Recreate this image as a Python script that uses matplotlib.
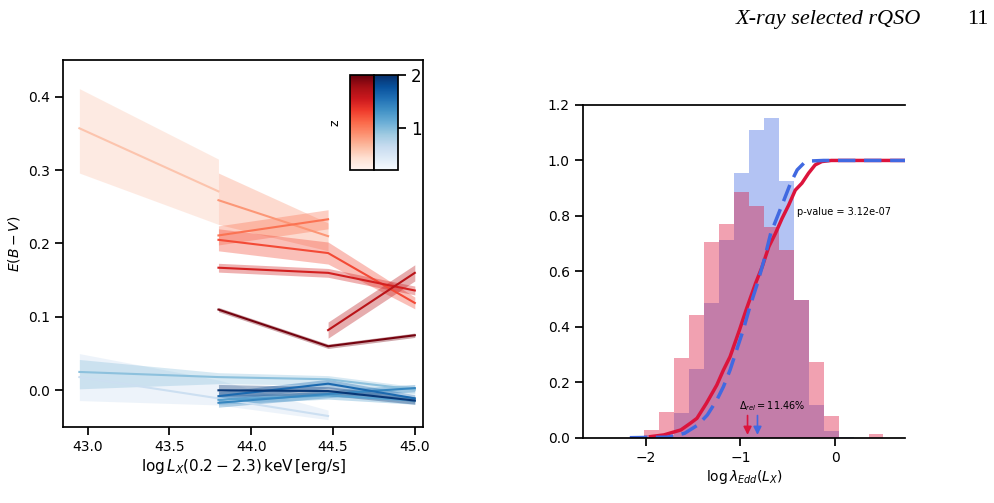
import numpy as np
import matplotlib.pyplot as plt
import matplotlib as mpl
from matplotlib.colors import Normalize

# ---- left panel: E(B-V) vs log Lx, one line per z bin ----
red_z = [0.6, 0.85, 1.05, 1.25, 1.5, 1.65, 1.95]
red_x = [[42.95, 43.8], [43.8, 44.47], [43.8, 44.47], [43.8, 44.47, 45.0],
         [43.8, 44.47, 45.0], [44.47, 45.0], [43.8, 44.47, 45.0]]
red_y = [[0.357, 0.271], [0.259, 0.210], [0.211, 0.233], [0.205, 0.187, 0.119],
         [0.167, 0.160, 0.136], [0.082, 0.160], [0.110, 0.060, 0.075]]
red_lo = [[0.296, 0.226], [0.226, 0.190], [0.198, 0.220], [0.190, 0.172, 0.111],
          [0.161, 0.154, 0.130], [0.071, 0.149], [0.107, 0.057, 0.072]]
red_hi = [[0.411, 0.315], [0.296, 0.228], [0.224, 0.246], [0.220, 0.202, 0.127],
          [0.173, 0.166, 0.142], [0.093, 0.171], [0.113, 0.063, 0.078]]

blue_z = [0.6, 0.95, 1.2, 1.4, 1.6, 1.95]
blue_x = [[42.95, 43.8, 44.47], [42.95, 43.8, 44.47, 45.0], [43.8, 44.47, 45.0],
          [43.8, 44.47, 45.0], [43.8, 44.47, 45.0], [43.8, 44.47, 45.0]]
blue_y = [[0.018, -0.011, -0.035], [0.025, 0.018, 0.015, 0.001], [-0.013, -0.007, -0.014],
          [-0.017, -0.005, 0.003], [-0.008, 0.009, -0.011], [0.000, -0.001, -0.014]]
blue_lo = [[-0.014, -0.020, -0.040], [0.002, 0.009, 0.007, -0.005], [-0.019, -0.012, -0.019],
           [-0.023, -0.010, -0.002], [-0.014, 0.003, -0.016], [-0.008, -0.007, -0.019]]
blue_hi = [[0.050, 0.014, -0.027], [0.042, 0.024, 0.020, 0.005], [-0.007, -0.002, -0.009],
           [-0.011, 0.000, 0.008], [-0.002, 0.015, -0.006], [0.008, 0.005, -0.009]]

# ---- right panel: histograms + CDFs ----
bin_edges = [-2.17, -2.02, -1.86, -1.70, -1.54, -1.39, -1.23, -1.07, -0.91, -0.75,
             -0.59, -0.43, -0.27, -0.12, 0.04, 0.20, 0.36, 0.51]
red_hist = [0.0, 0.028, 0.091, 0.289, 0.442, 0.706, 0.771, 0.887, 0.836, 0.759,
            0.677, 0.497, 0.273, 0.078, 0.0, 0.0, 0.013]
blue_hist = [0.005, 0.008, 0.010, 0.088, 0.249, 0.487, 0.713, 0.956, 1.110, 1.153,
             0.926, 0.495, 0.118, 0.025, 0.004, 0.0, 0.0]

red_cdf_x = [-1.95, -1.81, -1.63, -1.53, -1.46, -1.36, -1.25, -1.18, -1.11, -1.01,
             -0.94, -0.84, -0.77, -0.70, -0.63, -0.56, -0.49, -0.42, -0.35, -0.28,
             -0.21, -0.14, -0.04, 0.20, 0.74]
red_cdf_y = [0.004, 0.010, 0.028, 0.052, 0.070, 0.124, 0.190, 0.244, 0.292, 0.389,
             0.461, 0.557, 0.617, 0.689, 0.737, 0.791, 0.839, 0.893, 0.918, 0.954,
             0.984, 0.996, 1.0, 1.0, 1.0]
blue_cdf_x = [-2.17, -1.77, -1.59, -1.45, -1.35, -1.25, -1.18, -1.11, -1.04, -0.97,
              -0.90, -0.82, -0.75, -0.68, -0.61, -0.54, -0.47, -0.40, -0.33, -0.26,
              -0.12, 0.20, 0.74]
blue_cdf_y = [0.0, 0.002, 0.016, 0.046, 0.082, 0.136, 0.184, 0.244, 0.317, 0.389,
              0.473, 0.557, 0.641, 0.737, 0.797, 0.857, 0.918, 0.966, 0.990, 0.998,
              1.0, 1.0, 1.0]

red_median = -0.925
blue_median = -0.82

plt.rcParams['font.family'] = 'DejaVu Sans'
plt.rcParams['mathtext.fontset'] = 'dejavusans'

fig = plt.figure(figsize=(9.95, 5.03), dpi=100)

ax1 = fig.add_axes([63/995, 1-427/503, 360/995, 367/503])
norm = Normalize(0.2, 2.0)
for z, x, y, lo, hi in zip(red_z, red_x, red_y, red_lo, red_hi):
    c = plt.cm.Reds(norm(z))
    ax1.fill_between(x, lo, hi, color=c, alpha=0.35, lw=0)
    ax1.plot(x, y, color=c, lw=1.5)
for z, x, y, lo, hi in zip(blue_z, blue_x, blue_y, blue_lo, blue_hi):
    c = plt.cm.Blues(norm(z))
    ax1.fill_between(x, lo, hi, color=c, alpha=0.35, lw=0)
    ax1.plot(x, y, color=c, lw=1.5)
ax1.set_xlim(42.85, 45.05)
ax1.set_ylim(-0.05, 0.45)
ax1.set_xticks([43.0, 43.5, 44.0, 44.5, 45.0])
ax1.set_yticks([0.0, 0.1, 0.2, 0.3, 0.4])
ax1.set_xlabel(r'$\log L_X(0.2-2.3)\,\mathrm{keV}\,[\mathrm{erg/s}]$', fontsize=11, labelpad=2)
ax1.set_ylabel(r'$E(B-V)$', fontsize=10)

# double colorbar inset
cax_r = fig.add_axes([350/995, 1-170/503, 24/995, 95/503])
cax_b = fig.add_axes([374/995, 1-170/503, 24/995, 95/503])
cb_r = mpl.colorbar.ColorbarBase(cax_r, cmap=plt.cm.Reds, norm=norm)
cb_b = mpl.colorbar.ColorbarBase(cax_b, cmap=plt.cm.Blues, norm=norm)
cb_r.set_ticks([])
cb_b.set_ticks([1, 2])
cb_b.ax.tick_params(labelsize=12, length=6, width=1.25)
cax_r.set_ylabel('z', fontsize=9, labelpad=6)
cax_r.yaxis.set_label_position('left')
for cb in (cb_r, cb_b):
    cb.outline.set_linewidth(1.25)

# right panel
ax2 = fig.add_axes([583/995, 1-437.7/503, 322/995, 332.7/503])
ax2.bar(bin_edges[:-1], blue_hist, width=np.diff(bin_edges), align='edge',
        color='royalblue', alpha=0.4, lw=0)
ax2.bar(bin_edges[:-1], red_hist, width=np.diff(bin_edges), align='edge',
        color='crimson', alpha=0.4, lw=0)
ax2.plot(red_cdf_x, red_cdf_y, color='crimson', lw=2.5)
ax2.plot(blue_cdf_x, blue_cdf_y, color='royalblue', lw=2.5, ls=(0, (5, 2.5)))
ax2.annotate('', xy=(red_median, 0.0), xytext=(red_median, 0.09),
             arrowprops=dict(arrowstyle='-|>', color='crimson', lw=1.2, mutation_scale=12))
ax2.annotate('', xy=(blue_median, 0.0), xytext=(blue_median, 0.09),
             arrowprops=dict(arrowstyle='-|>', color='royalblue', lw=1.2, mutation_scale=12))
ax2.text(-0.66, 0.114, r'$\Delta_{rel}=11.46\%$', fontsize=7, ha='center', va='center')
ax2.text(-0.40, 0.813, 'p-value = 3.12e-07', fontsize=7, ha='left', va='center')
ax2.set_xlim(-2.665, 0.74)
ax2.set_ylim(0, 1.2)
ax2.set_xticks([-2, -1, 0])
ax2.set_yticks([0.0, 0.2, 0.4, 0.6, 0.8, 1.0, 1.2])
ax2.set_xlabel(r'$\log\lambda_{Edd}(L_X)$', fontsize=10, labelpad=2)
ax2.spines['right'].set_visible(False)

for ax in (ax1, ax2):
    ax.tick_params(labelsize=10, length=6, width=1.25)
    for s in ax.spines.values():
        s.set_linewidth(1.25)

fig.text(0.739, 0.962, 'X-ray selected rQSO', family='Liberation Serif', style='italic',
         fontsize=16, va='center')
fig.text(0.972, 0.962, '11', family='Liberation Serif', fontsize=16, va='center')

fig.savefig('out.png', dpi=100)
